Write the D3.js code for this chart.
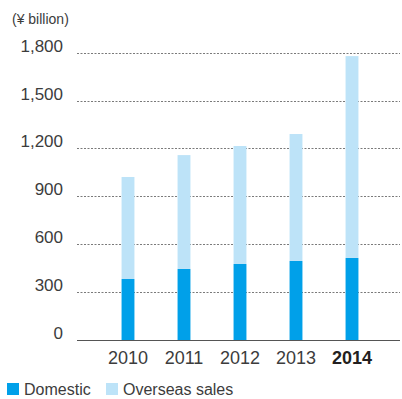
<!DOCTYPE html>
<html>
<head>
<meta charset="utf-8">
<script src="https://cdn.jsdelivr.net/npm/d3@7"></script>
<style>
  body { margin: 0; background: #fff; }
  text { font-family: "Liberation Sans", Arial, sans-serif; }
</style>
</head>
<body>
<div class="vis-bars"></div>
<script>
const years = ["2010", "2011", "2012", "2013", "2014"];
const domestic = [382, 445, 476, 495, 514];
const overseas = [639, 713, 739, 795, 1264];
const yTicks = [0, 300, 600, 900, 1200, 1500, 1800];
const seriesNames = ["Domestic", "Overseas sales"];

const width = 402, height = 399;
const colors = ["#00a0e9", "#bde3f8"];

let svg = d3.select('.vis-bars')
    .append('svg')
    .attr('width', width)
    .attr('height', height);

let y = d3.scaleLinear()
    .domain([0, 1800])
    .range([340, 52.6]);

let x = d3.scaleBand()
    .domain(years)
    .range([100, 380])
    .paddingInner(0.77)
    .paddingOuter(0.385);

// grid lines
svg.selectAll('.grid')
    .data(yTicks.filter(d => d > 0))
    .enter().append('line')
    .attr('x1', 77).attr('x2', 400)
    .attr('y1', d => Math.round(y(d)) + 0.5)
    .attr('y2', d => Math.round(y(d)) + 0.5)
    .attr('stroke', '#7a7a7a')
    .attr('stroke-width', 1)
    .attr('stroke-dasharray', '2,1.5');

// y labels
svg.selectAll('.ylab')
    .data(yTicks)
    .enter().append('text')
    .attr('x', 63)
    .attr('y', d => y(d) - 1)
    .attr('text-anchor', 'end')
    .style('font-size', '17px')
    .attr('fill', '#3c3c3c')
    .text(d => d3.format(',')(d));

svg.append('text')
    .attr('x', 12).attr('y', 24)
    .style('font-size', '14px')
    .attr('fill', '#3c3c3c')
    .text('(¥ billion)');

// stacked bars
let table = years.map((yr, i) => ({ year: yr, domestic: domestic[i], overseas: overseas[i] }));
let stack = d3.stack().keys(["domestic", "overseas"]);
let layers = stack(table);

svg.selectAll('.layer')
    .data(layers)
    .enter().append('g')
    .attr('fill', (d, i) => colors[i])
    .selectAll('rect')
    .data(d => d)
    .enter().append('rect')
    .attr('x', d => x(d.data.year))
    .attr('width', x.bandwidth())
    .attr('y', d => y(d[1]))
    .attr('height', d => y(d[0]) - y(d[1]));

// baseline
svg.append('line')
    .attr('x1', 77).attr('x2', 400)
    .attr('y1', y(0) + 0.5).attr('y2', y(0) + 0.5)
    .attr('stroke', '#555')
    .attr('stroke-width', 1);

// x labels
svg.selectAll('.xlab')
    .data(years)
    .enter().append('text')
    .attr('x', d => x(d) + x.bandwidth() / 2)
    .attr('y', 364)
    .attr('text-anchor', 'middle')
    .style('font-size', '18px')
    .style('font-weight', (d, i) => i === years.length - 1 ? 'bold' : 'normal')
    .attr('fill', (d, i) => i === years.length - 1 ? '#231f20' : '#3c3c3c')
    .text(d => d);

// legend
let legendX = [7, 106];
let legendG = svg.selectAll('.legend')
    .data(seriesNames)
    .enter().append('g')
    .attr('transform', (d, i) => 'translate(' + legendX[i] + ',383)');

legendG.append('rect')
    .attr('width', 12)
    .attr('height', 12)
    .attr('fill', (d, i) => colors[i]);

legendG.append('text')
    .attr('x', 17)
    .attr('y', 12)
    .style('font-size', '16px')
    .attr('fill', '#3c3c3c')
    .text(d => d);
</script>
</body>
</html>
